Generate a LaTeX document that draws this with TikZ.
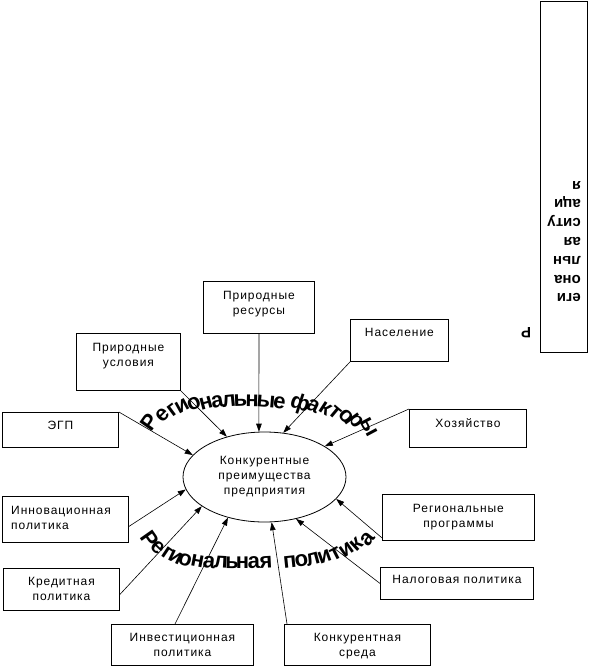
\documentclass[tikz,border=0pt]{standalone}
\usepackage{fontspec}
\setmainfont{Liberation Sans}
\newfontfamily\boxfont[LetterSpace=8]{Liberation Sans}
\usetikzlibrary{arrows.meta,shapes.geometric}
\begin{document}
\begin{tikzpicture}[x=1pt,y=1pt,
  box/.style={draw, line width=0.9pt, rectangle, inner sep=0pt, anchor=north west},
  btext/.style={font=\boxfont\fontsize{12}{15}\selectfont, align=center, inner sep=0pt, anchor=base},
  conn/.style={line width=0.6pt, -{Triangle[length=8pt,width=5.5pt]}},
  letter/.style={inner sep=0pt, font=\bfseries\fontsize{22}{26}\selectfont, text height=11.4pt, text depth=0pt, anchor=center}
]
\useasboundingbox (0,0) rectangle (589,-666);

% central ellipse
\node[draw, ellipse, line width=0.8pt, minimum width=163pt, minimum height=90pt, inner sep=0pt,
  font=\boxfont\fontsize{12}{15}\selectfont, align=center] (ell) at (264.5,-477)
  {Конкурентные\\преимущества\\предприятия};

% boxes (multi-line text: base anchor = last line)
\node[box, minimum width=111pt, minimum height=52pt] (res) at (203,-281) {};
\node[btext] (rest) at ([yshift=-33.3pt]res.north) {Природные\\ресурсы};

\node[box, minimum width=104pt, minimum height=57pt] (usl) at (76,-333) {};
\node[btext] (uslt) at ([yshift=-33.3pt]usl.north) {Природные\\условия};

\node[box, minimum width=116pt, minimum height=35pt] (egp) at (2,-412) {};
\node[btext] (egpt) at ([yshift=-17.3pt]egp.north) {ЭГП};

\node[box, minimum width=98pt, minimum height=42pt] (nas) at (350,-319) {};
\node[btext] (nast) at ([yshift=-17.3pt]nas.north) {Население};

\node[box, minimum width=117pt, minimum height=38pt] (hoz) at (409,-409) {};
\node[btext] (hozt) at ([yshift=-18.3pt]hoz.north) {Хозяйство};

\node[box, minimum width=126pt, minimum height=46pt] (inn) at (2,-496) {};
\node[btext, align=left, anchor=base west] (innt) at ([xshift=9pt,yshift=-33.8pt]inn.north west) {Инновационная\\политика};

\node[box, minimum width=116pt, minimum height=42pt] (kred) at (3,-568) {};
\node[btext] (kredt) at ([yshift=-32.3pt]kred.north) {Кредитная\\политика};

\node[box, minimum width=142pt, minimum height=41pt] (inv) at (111,-624) {};
\node[btext] (invt) at ([yshift=-32.8pt]inv.north) {Инвестиционная\\политика};

\node[box, minimum width=146pt, minimum height=41pt] (sreda) at (284,-624) {};
\node[btext] (sredat) at ([yshift=-32.3pt]sreda.north) {Конкурентная\\среда};

\node[box, minimum width=152pt, minimum height=46pt] (prog) at (382,-494) {};
\node[btext] (progt) at ([yshift=-33.3pt]prog.north) {Региональные\\программы};

\node[box, minimum width=153pt, minimum height=32pt] (nal) at (380,-567) {};
\node[btext] (nalt) at ([yshift=-16.3pt]nal.north) {Налоговая политика};

% rotated box
\node[box, minimum width=47pt, minimum height=351pt] (sit) at (540,-1) {};
\node[rotate=180, align=left, inner sep=0pt, font=\bfseries\fontsize{15}{18.8}\selectfont] (sitt) at (564,-241.5)
  {еги\\она\\льн\\ая\\ситу\\аци\\я};
\node[rotate=180, inner sep=0pt, font=\bfseries\fontsize{15}{18}\selectfont] (sitp) at (526,-333) {Р};

% connectors
\draw[conn] (res.south) -- (ell.97.6);
\draw[conn] (usl.south east) -- (ell.133);
\draw[conn] (nas.south west) -- (ell.67);
\draw[conn] (egp.north east) -- (ell.163);
\draw[conn] (hoz.north west) -- (ell.27);
\draw[conn] ([yshift=3pt]prog.south west) -- (ell.-17);
\draw[conn] (nal.west) -- (ell.-53);
\draw[conn] ([xshift=3pt]sreda.north west) -- (ell.-81);
\draw[conn] ([xshift=64pt]inv.north west) -- (ell.-132.5);
\draw[conn] ([yshift=-5pt]kred.east) -- (ell.205.6);
\draw[conn] ([yshift=-7pt]inn.east) -- (ell.189);

% arched text: Региональные факторы
\foreach \c/\x/\y/\r [count=\i] in {Р/151/423/55, е/163/415/45, г/172.5/410/37, и/182/406/29, о/194/404/22,
  н/206/403/15, а/217.5/402/10, л/229/401.5/6, ь/240.5/401/2, н/252/401/-1, ы/266/402/-5, е/279.5/403/-10,
  ф/300/404/-18, а/313/406/-26, к/325/409/-33, т/335.5/412.5/-40, о/346/416.5/-47, р/356.5/421/-54, ы/369/427.5/-62}
  {\node[letter, rotate=\r] (fa\i) at (\x,-\y) {\c};}

% arched text: Региональная политика
\foreach \c/\x/\y/\r [count=\i] in {Р/148/540/-55, е/158/548/-44, г/167/553/-34, и/175.5/557/-26, о/185/560/-18,
  н/197.5/561.5/-11, а/209/562/-6, л/221/562.5/-3, ь/232/563/-1, н/242.5/563/0, а/254/563/1, я/266/562.5/3,
  п/290/562/6, о/301.5/561/10, л/313/559.5/15, и/324.5/557/20, т/335.5/554/27, и/346.5/550/35, к/357/545/43, а/367.5/539/52}
  {\node[letter, rotate=\r] (pa\i) at (\x,-\y) {\c};}
\end{tikzpicture}
\end{document}
